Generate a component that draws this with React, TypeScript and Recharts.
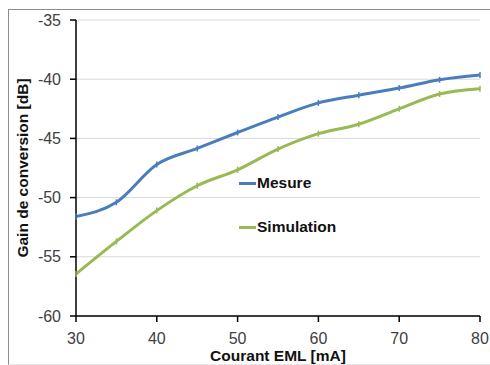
import React from 'react';
import { LineChart, Line, XAxis, YAxis, CartesianGrid, Legend } from 'recharts';

const courant = [30, 35, 40, 45, 50, 55, 60, 65, 70, 75, 80];
const mesure = [-51.6, -50.4, -47.2, -45.85, -44.5, -43.2, -42.0, -41.35, -40.75, -40.05, -39.65];
const simulation = [-56.45, -53.7, -51.1, -49.0, -47.65, -45.9, -44.6, -43.8, -42.5, -41.25, -40.8];
const xTicks = [30, 40, 50, 60, 70, 80];
const yTicks = [-60, -55, -50, -45, -40, -35];

const data = courant.map((c, i) => ({ c, mesure: mesure[i], simulation: simulation[i] }));

const BLUE = '#4A7EBB';
const GREEN = '#98B954';
const FONT = '"Liberation Sans", Arial, sans-serif';

const TickDot = (props: any) => {
  const { cx, cy, stroke } = props;
  if (cx == null || cy == null) return null;
  return <line x1={cx} y1={cy - 3} x2={cx} y2={cy + 3} stroke={stroke} strokeWidth={1.5} />;
};

const LegendContent = () => {
  const items = [
    { name: 'Mesure', color: BLUE, top: 0 },
    { name: 'Simulation', color: GREEN, top: 44 },
  ];
  return (
    <div style={{ position: 'relative', width: 120, height: 62 }}>
      {items.map((it) => (
        <div key={it.name} style={{ position: 'absolute', left: 0, top: it.top, display: 'flex', alignItems: 'center', height: 18 }}>
          <div style={{ width: 17, height: 3, background: it.color, marginRight: 1 }} />
          <span style={{ fontFamily: FONT, fontWeight: 'bold', fontSize: 15.5, color: '#111' }}>{it.name}</span>
        </div>
      ))}
    </div>
  );
};

const YLabel = (props: any) => {
  const { viewBox } = props;
  const cx = viewBox.x + 15;
  const cy = viewBox.y + viewBox.height / 2;
  return (
    <text x={cx} y={cy} transform={`rotate(-90 ${cx} ${cy})`} textAnchor="middle" dominantBaseline="central"
      fontFamily={FONT} fontWeight="bold" fontSize={15.5} fill="#111">
      Gain de conversion [dB]
    </text>
  );
};

const XLabel = (props: any) => {
  const { viewBox } = props;
  const cx = viewBox.x + viewBox.width / 2;
  const y = viewBox.y + viewBox.height - 4;
  return (
    <text x={cx} y={y} textAnchor="middle" fontFamily={FONT} fontWeight="bold" fontSize={15.5} fill="#111">
      Courant EML [mA]
    </text>
  );
};

export default function App() {
  return (
    <div style={{ position: 'relative', width: 490, height: 365, background: '#fff' }}>
      <style>{`html,body{margin:0;padding:0;overflow:hidden;}`}</style>
      <div style={{
        position: 'absolute', left: 8, top: 9, width: 482, height: 356,
        borderTop: '1px solid #8c8c8c', borderLeft: '1px solid #8c8c8c', borderBottom: '1px solid #e8e8e8',
        boxSizing: 'border-box',
      }} />
      <div style={{ position: 'absolute', left: 7, top: 8 }}>
        <LineChart width={483} height={357} data={data} margin={{ top: 12, right: 10, bottom: 0, left: 0 }}>
          <CartesianGrid horizontal vertical={false} stroke="#d9d9d9" strokeWidth={1} />
          <XAxis dataKey="c" type="number" domain={[30, 80]} ticks={xTicks} height={49}
            axisLine={{ stroke: '#000', strokeWidth: 1.5 }} tickLine={{ stroke: '#000', strokeWidth: 1.5 }}
            tickSize={6} tickMargin={11}
            tick={{ fontFamily: FONT, fontSize: 16, fill: '#404040' }}
            label={<XLabel />} />
          <YAxis type="number" domain={[-60, -35]} ticks={yTicks} width={69}
            axisLine={{ stroke: '#000', strokeWidth: 1.5 }} tickLine={{ stroke: '#000', strokeWidth: 1.5 }}
            tickSize={6} tickMargin={9}
            tick={{ fontFamily: FONT, fontSize: 16, fill: '#404040' }}
            label={<YLabel />} />
          <Legend content={<LegendContent />} layout="horizontal" verticalAlign="middle" align="center"
            wrapperStyle={{ position: 'absolute', left: 232, top: 166, width: 130 }} />
          <Line type="monotone" dataKey="mesure" name="Mesure" stroke={BLUE} strokeWidth={3}
            dot={<TickDot />} activeDot={false} isAnimationActive={false} />
          <Line type="monotone" dataKey="simulation" name="Simulation" stroke={GREEN} strokeWidth={3}
            dot={<TickDot />} activeDot={false} isAnimationActive={false} />
        </LineChart>
      </div>
    </div>
  );
}
